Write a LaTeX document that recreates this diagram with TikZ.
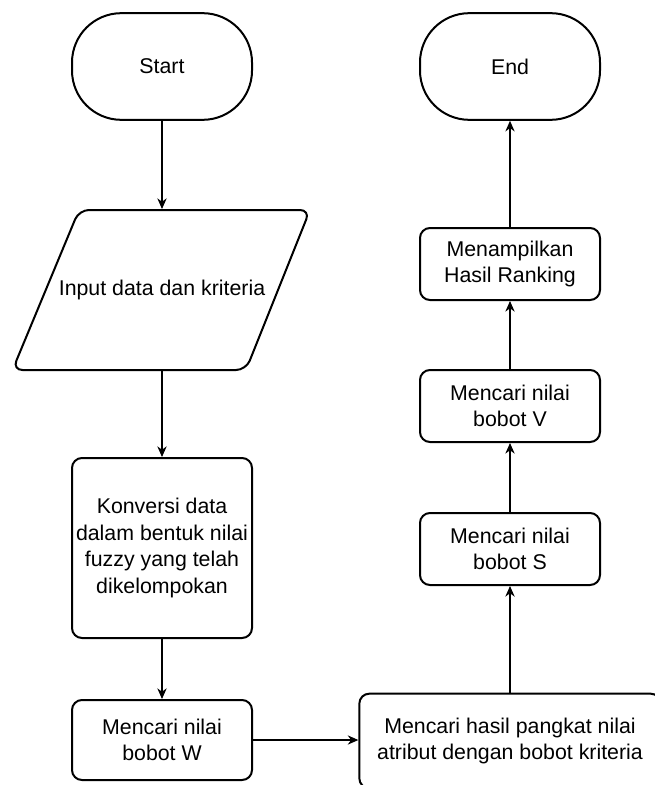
\documentclass[tikz,border=0pt]{standalone}
\usepackage{fontspec}
\setmainfont{Liberation Sans}
\usetikzlibrary{arrows.meta}
\tikzset{
    box/.style={draw=black, line width=1.5pt, rounded corners=7.5pt, align=center, inner sep=0pt,
        minimum width=135pt, font=\fontsize{16}{20}\selectfont},
    term/.style={box, rounded corners=37pt, minimum height=80pt},
    flow/.style={-{Stealth[length=8pt,width=7pt]}, line width=0.8pt},
}

\begin{document}
\begin{tikzpicture}[x=0.75pt, y=-0.75pt]
    \useasboundingbox (0,0) rectangle (654,785);
    % left column
    \node[term] (start) at (162,66.5) {Start};
    \draw[line width=1.5pt, rounded corners=7.5pt] (79,210) -- (310,210) -- (246,370) -- (12.5,370) -- cycle;
    \node[box, draw=none, minimum height=120pt] (input) at (162,290) {Input data dan kriteria};
    \node[box, minimum height=135pt] (convert) at (162,548) {Konversi data\\dalam bentuk nilai\\fuzzy yang telah\\dikelompokan};
    \node[box, minimum height=60pt] (weightW) at (162,740) {Mencari nilai\\bobot W};
    % right column
    \node[box, minimum width=226pt, minimum height=71pt] (power) at (510,741) {Mencari hasil pangkat nilai\\atribut dengan bobot kriteria};
    \node[box, minimum height=54pt] (valueS) at (510,549) {Mencari nilai\\bobot S};
    \node[box, minimum height=54pt] (valueV) at (510,406) {Mencari nilai\\bobot V};
    \node[box, minimum height=54pt] (ranking) at (510,264) {Menampilkan\\Hasil Ranking};
    \node[term] (finish) at (510,66.5) {End};
    % connectors
    \draw[flow] (start) -- (input);
    \draw[flow] (input) -- (convert);
    \draw[flow] (convert) -- (weightW);
    \draw[flow] (weightW.east) -- (weightW.east -| power.west);
    \draw[flow] (power) -- (valueS);
    \draw[flow] (valueS) -- (valueV);
    \draw[flow] (valueV) -- (ranking);
    \draw[flow] (ranking) -- (finish);
\end{tikzpicture}
\end{document}
